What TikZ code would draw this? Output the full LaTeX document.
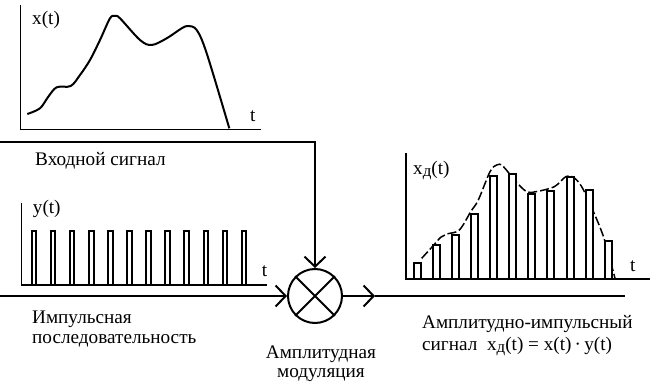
\documentclass[tikz,border=0pt]{standalone}
\usepackage{fontspec}
\setmainfont{Liberation Serif}
\usetikzlibrary{arrows.meta}
\tikzset{
  sig/.style={line width=2pt},
  axis/.style={line width=1.3pt},
  lbl/.style={font=\fontsize{19.2}{20}\selectfont,inner sep=0pt,anchor=base west},
  barb/.style={-{Straight Barb[length=10pt,width=21pt]}}
}
\newcommand{\xdsub}{x\raisebox{-2pt}{\fontsize{17}{17}\selectfont д}(t)}

\begin{document}
\begin{tikzpicture}[x=1pt,y=-1pt]
	\useasboundingbox (0,0) rectangle (654,385);
	
	% x(t)
	\draw[axis] (20.7,5) -- (20.7,129.5) -- (261,129.5);
	\draw[sig,line join=round] plot[smooth,tension=0.55] coordinates {(27.3,114) (40,108.3) (48.3,96.7) (56.7,87.3) (70.7,86) (80,75) (90,60) (100,40) (110,18.3) (115,16) (120,18.3) (140,40) (151.7,45) (166.7,38.3) (181.7,28.3) (188.3,26) (196.7,30) (206.7,53.3) (229.3,128.3)};
	\node[lbl] (xlbl) at (32,25) {x(t)};
	\node[lbl] (tx) at (250,121.7) {t};
	\node[lbl] (inlbl) at (35,166) {Входной сигнал};
	
	% y(t)
	\draw[axis] (21.7,203) -- (21.7,285) -- (267,285);
	\foreach \i in {0,...,11}
		\draw[sig] ({31.7+19.09*\i},285) -- ({31.7+19.09*\i},231) -- ({36.3+19.09*\i},231) -- ({36.3+19.09*\i},285);
	\node[lbl] (ylbl) at (32.7,213.5) {y(t)};
	\node[lbl] (ty) at (261.7,276.7) {t};
	\node[lbl,align=left] (implbl) at (32,343) {Импульсная\\последовательность};
	
	% modulator
	\node[circle,draw,line width=2pt,minimum size=54pt,inner sep=0pt] (mod) at (315,296) {};
	\draw[sig] (mod.north west) -- (mod.south east);
	\draw[sig] (mod.north east) -- (mod.south west);
	\node[lbl,anchor=base,align=center] (modlbl) at (321,377) {Амплитудная\\[-1pt]модуляция};
	
	\coordinate (inx) at (0,142.3);
	\coordinate (bend) at (315,142.3);
	\coordinate (iny) at (0,296);
	\coordinate (midarr) at (375,296);
	\coordinate (outend) at (625,296);
	\draw[sig,barb] (inx) -- (bend) -- (mod.north);
	\draw[sig,barb] (iny) -- (mod.west);
	\draw[sig,barb] (mod.east) -- (midarr);
	\draw[sig] (midarr) -- (outend);
	
	% x_d(t)
	\draw[axis] (406,153) -- (406,279) -- (650,279);
	\draw[line width=1.5pt,dash pattern=on 9pt off 3pt] plot[smooth,tension=0.55] coordinates {(421.7,258.3) (432.3,246.7) (440.7,237.3) (446.7,234) (459.3,230) (470.7,211.7) (478.3,200) (490,171.7) (496.7,165) (502.7,166) (516,181.7) (526.7,191.7) (535.7,191.7) (554.3,186.7) (565.7,176.7) (573,177) (581.7,186.7) (592.7,210) (604,238.3) (615,278.3)};
	\foreach \i/\h in {0/263.3,1/245.3,2/235.3,3/214.3,4/176,5/174.3,6/194.3,7/191,8/177,9/190.3,10/241}
		\draw[sig,fill=white] ({413.7+19.1*\i},279) rectangle ({420.7+19.1*\i},\h);
	\node[lbl] (xdlbl) at (413,175) {\xdsub};
	\node[lbl] (td) at (630,271.7) {t};
	\node[lbl,align=left] (outlbl) at (422,350) {Амплитудно-импульсный\\[2pt]сигнал\ \ \xdsub\ = x(t)\,·\,y(t)};
\end{tikzpicture}
\end{document}
